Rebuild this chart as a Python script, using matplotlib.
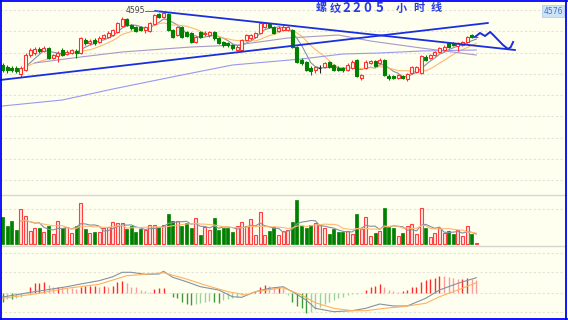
import matplotlib
matplotlib.use("Agg")
import matplotlib.pyplot as plt
from matplotlib.lines import Line2D
from matplotlib.patches import Rectangle
import numpy as np
import pandas as pd

plt.rcParams['font.family'] = ['Noto Sans CJK SC', 'DejaVu Sans']

W, H = 568, 320

# hourly candles, rebar 2205
opens = [4489, 4485, 4483, 4483, 4471, 4479, 4509, 4513, 4521, 4517,
         4523, 4503, 4507, 4519, 4511, 4513, 4517, 4513, 4539, 4533,
         4539, 4535, 4543, 4545, 4549, 4555, 4567, 4581, 4569, 4565,
         4565, 4559, 4557, 4571, 4591, 4585, 4591, 4559, 4549, 4565,
         4555, 4553, 4535, 4555, 4551, 4549, 4555, 4543, 4535, 4533,
         4529, 4519, 4519, 4539, 4543, 4545, 4553, 4565, 4571, 4565,
         4557, 4559, 4559, 4559, 4525, 4499, 4495, 4483, 4479, 4483,
         4485, 4495, 4489, 4483, 4483, 4479, 4483, 4499, 4463, 4483,
         4493, 4497, 4493, 4499, 4467, 4467, 4463, 4467, 4461, 4473,
         4475, 4473, 4505, 4503, 4509, 4515, 4519, 4533, 4533, 4527,
         4529, 4535, 4549, 4545]
closes = [4479, 4479, 4479, 4477, 4483, 4509, 4519, 4521, 4517, 4523,
          4503, 4509, 4513, 4509, 4515, 4519, 4513, 4543, 4533, 4537,
          4533, 4543, 4549, 4553, 4559, 4573, 4581, 4569, 4563, 4557,
          4559, 4565, 4573, 4589, 4585, 4593, 4559, 4545, 4565, 4545,
          4547, 4535, 4545, 4545, 4553, 4555, 4543, 4533, 4529, 4529,
          4523, 4525, 4539, 4549, 4549, 4553, 4573, 4573, 4565, 4553,
          4563, 4565, 4565, 4525, 4495, 4493, 4479, 4477, 4485, 4483,
          4493, 4485, 4479, 4479, 4479, 4489, 4495, 4467, 4469, 4495,
          4497, 4487, 4499, 4469, 4463, 4463, 4469, 4463, 4471, 4485,
          4485, 4507, 4499, 4509, 4515, 4523, 4525, 4525, 4529, 4533,
          4535, 4545, 4545, 4546]
highs = [4493, 4489, 4487, 4487, 4487, 4513, 4523, 4525, 4525, 4527,
         4525, 4511, 4517, 4523, 4519, 4521, 4521, 4545, 4543, 4541,
         4543, 4547, 4551, 4557, 4561, 4575, 4585, 4583, 4571, 4567,
         4567, 4567, 4575, 4591, 4593, 4595, 4593, 4561, 4567, 4567,
         4557, 4555, 4547, 4557, 4557, 4557, 4557, 4545, 4537, 4535,
         4531, 4529, 4541, 4551, 4551, 4555, 4575, 4575, 4573, 4567,
         4567, 4569, 4567, 4561, 4527, 4503, 4497, 4487, 4487, 4489,
         4495, 4497, 4491, 4487, 4485, 4493, 4499, 4501, 4471, 4499,
         4499, 4499, 4503, 4501, 4471, 4469, 4471, 4469, 4473, 4487,
         4487, 4509, 4509, 4511, 4517, 4525, 4529, 4535, 4535, 4535,
         4537, 4547, 4551, 4547]
lows = [4475, 4473, 4475, 4473, 4465, 4477, 4505, 4509, 4513, 4515,
        4501, 4501, 4495, 4507, 4509, 4511, 4503, 4511, 4529, 4529,
        4529, 4533, 4541, 4543, 4547, 4553, 4565, 4567, 4559, 4555,
        4557, 4553, 4555, 4569, 4583, 4583, 4557, 4543, 4547, 4543,
        4545, 4533, 4533, 4543, 4547, 4545, 4539, 4531, 4525, 4525,
        4519, 4517, 4517, 4537, 4539, 4543, 4551, 4563, 4563, 4551,
        4555, 4557, 4557, 4523, 4493, 4489, 4477, 4469, 4473, 4473,
        4483, 4483, 4477, 4477, 4475, 4477, 4481, 4465, 4459, 4481,
        4491, 4485, 4491, 4467, 4459, 4461, 4461, 4461, 4457, 4471,
        4473, 4471, 4497, 4501, 4507, 4513, 4517, 4523, 4527, 4517,
        4527, 4533, 4543, 4545]
# volume, 10k lots
volume = [2.7, 1.8, 2.3, 1.4, 3.5, 2.8, 1.3, 1.6, 1.6, 1.2,
          1.8, 1.0, 2.3, 1.6, 1.7, 1.1, 1.8, 4.1, 1.5, 1.1,
          1.2, 1.2, 1.6, 1.7, 2.2, 2.1, 2.1, 1.5, 1.8, 1.2,
          1.5, 1.4, 1.9, 1.9, 1.7, 1.9, 3.0, 2.3, 2.3, 1.8,
          2.1, 1.6, 2.6, 0.9, 1.7, 1.4, 2.6, 1.4, 1.6, 1.6,
          1.2, 1.8, 2.2, 1.8, 2.5, 0.9, 3.2, 0.9, 1.3, 1.7,
          0.9, 1.3, 1.4, 2.2, 4.4, 1.8, 1.6, 1.9, 2.1, 1.9,
          1.6, 1.0, 1.5, 1.2, 1.2, 1.3, 1.0, 3.0, 1.5, 2.7,
          0.8, 1.1, 1.3, 3.6, 1.7, 1.6, 0.8, 1.1, 1.8, 2.0,
          1.0, 3.6, 1.6, 0.7, 1.1, 1.6, 1.1, 1.3, 1.0, 1.4,
          0.8, 1.8, 1.0, 0.1]
macd_hist = [-9, -6.7, -6.7, -5.7, -4, 0.5, 5.3, 9.3, 10, 11,
             7.7, 6, 6, 5.3, 5, 4.3, 3.3, 6, 6.7, 6.7,
             6.7, 6, 6.7, 6, 6.7, 11, 11.7, 9.3, 6, 5.3,
             2.7, 1.7, 1, 3.7, 4.3, 5, -0.5, -4.7, -5.7, -9,
             -11.3, -12.3, -11.3, -10, -9, -8, -9, -10, -7.3, -6.7,
             -5.7, -4.7, -2.3, -1.3, -0.3, 1, 5.3, 7.7, 6.7, 6,
             6, 4.3, -2.3, -9, -13.3, -15.6, -20, -19, -16.6, -14.6,
             -11.3, -9, -7.3, -5.7, -4, -2.3, -1.7, -1.3, -0.7, 2.7,
             5.3, 6.7, 8.3, 5.3, 2.7, 1.7, 1, 1.7, 2.7, 5.3,
             6, 11, 12.7, 13.3, 15, 17, 16.7, 16, 15, 13.3,
             13.7, 14.3, 13.3, 12.7]
dif_idx = [0, 7, 14, 17, 21, 24, 26, 28, 31, 34, 35, 37, 40, 43, 47, 50, 52,
           55, 58, 61, 63, 66, 68, 72, 76, 79, 82, 85, 88, 92, 95, 99, 103]
dif = [-4.3, 1, 6, 8.7, 12, 16, 20.4, 20.4, 18.4, 18.7, 21.4, 15.4, 11, 6,
       2.7, -4, -4.6, 1, 4.4, 6, 1, -7.3, -15.6, -19, -18, -15.6, -11.3,
       -13.3, -13.3, -5.6, 2.7, 9.4, 15]
dea_idx = [0, 7, 14, 21, 27, 31, 35, 40, 44, 49, 53, 55, 61, 65, 68, 72, 76,
           79, 83, 87, 92, 95, 99, 103]
dea = [-5.6, -1.3, 4.4, 8.4, 17, 18.4, 20, 13.7, 7.7, 1, -2.3, 1, 5, -2.3,
       -10, -15.6, -18, -18, -15.6, -14, -10.6, -4, 2.7, 10]
# longer moving averages
ma_mid_idx = [7, 17, 26, 41, 51, 62, 73, 80, 91, 103]
ma_mid = [4493, 4505, 4515, 4525, 4529, 4543, 4549, 4537, 4523, 4509]
ma_long_idx = [0, 13, 24, 39, 50, 65, 74, 82, 91, 103]
ma_long = [4407, 4419, 4441, 4469, 4489, 4501, 4511, 4513, 4517, 4519]
# hand drawn lines
trend_down_idx = [33.2, 111.4]
trend_down = [4597, 4519]
trend_up_idx = [-0.5, 105.5]
trend_up = [4459, 4573]
guess_idx = [102.7, 103.8, 104.9, 106.0, 106.7, 108.8, 109.9, 110.5, 111.0]
guess = [4545, 4553, 4547, 4555, 4549, 4529, 4521, 4525, 4535]

title = '螺纹2205小时线'
title_px = [321, 335, 346, 356.5, 367.5, 379.5, 401.5, 418.5, 436.5]
last_tag = '4576'

bg = '#fffff0'
grid_c = '#e2e2d6'
red = '#ff3030'
green = '#008000'
blue = '#1a2ee0'

# candle i sits at 2.5 + 4.6*i pixels
STEP, X0 = 4.6, 2.5
XLIM = ((0 - X0) / STEP, (565 - X0) / STEP)

fig = plt.figure(figsize=(W / 100, H / 100), dpi=100, facecolor=bg)


def panel(y0, y1):
    ax = fig.add_axes([0, 1 - y1 / H, 565 / W, (y1 - y0) / H])
    ax.set_facecolor('none')
    for s in ax.spines.values():
        s.set_visible(False)
    ax.set_xticks([])
    ax.set_yticks([])
    ax.set_xlim(XLIM)
    return ax


def dashed(ax, levels):
    for g in levels:
        ax.axhline(g, color=grid_c, lw=0.8, ls=(0, (2, 2)), zorder=0)


n = len(closes)
idx = np.arange(n)
o = np.array(opens)
c = np.array(closes)
hi = np.array(highs)
lo = np.array(lows)
bw = 0.66

# ---- price panel
ax = panel(0, 194.7)
ax.set_ylim(4229.6, 4619)
dashed(ax, np.linspace(4259, 4599, 9))

for i in idx:
    if c[i] > o[i]:
        col, face = red, bg
    elif c[i] < o[i]:
        col, face = green, green
    else:
        col, face = '#202020', '#202020'
    top, bot = max(o[i], c[i]), min(o[i], c[i])
    ax.vlines(i, top, hi[i], color=col, lw=0.8, zorder=3)
    ax.vlines(i, lo[i], bot, color=col, lw=0.8, zorder=3)
    ax.add_patch(Rectangle((i - bw / 2, bot), bw, max(top - bot, 0.6),
                           facecolor=face, edgecolor=col, lw=0.8, zorder=4))

cs = pd.Series(c)
ma5 = cs.rolling(5, min_periods=1).mean()
ma10 = cs.rolling(10, min_periods=1).mean()
ax.plot(idx[4:], ma5[4:], color='#8492a0', lw=0.8, zorder=2)
ax.plot(idx[4:], ma10[4:], color='#ffb870', lw=0.8, zorder=2)
ax.plot(ma_mid_idx, ma_mid, color='#a898c8', lw=0.8, zorder=2)
ax.plot(ma_long_idx, ma_long, color='#9898f0', lw=0.8, zorder=2)

ax.plot(trend_down_idx, trend_down, color=blue, lw=1.3, zorder=5)
ax.plot(trend_up_idx, trend_up, color=blue, lw=1.3, zorder=5)
ax.plot(guess_idx, guess, color=blue, lw=1.4, zorder=5, solid_joinstyle='miter')

pk = int(np.argmax(hi))
ax.plot([pk - 4.0, pk - 1.2], [hi[pk] + 2.6] * 2, color='#707080', lw=0.7, zorder=5)
ax.text(pk - 4.0, hi[pk] + 4, str(hi[pk]), ha='right', va='center',
        fontsize=5.5, color='#404050', family='DejaVu Sans')

for ch, xp in zip(title, title_px):
    size = 9.5 if ch.isdigit() else 8
    fig.text(xp / W, 1 - 8 / H, ch, ha='center', va='center', fontsize=size,
             fontweight='bold', color='#2a3ce6',
             family=['Noto Sans CJK SC', 'DejaVu Sans'])

fig.text(553 / W, 1 - 11 / H, last_tag, ha='center', va='center', fontsize=5.5,
         color='#3a78c8', family='DejaVu Sans',
         bbox=dict(boxstyle='square,pad=0.15', fc='#cfe3f7', ec='#a8c8e8', lw=0.5))

# ---- volume panel
axv = panel(194.7, 246.3)
axv.set_ylim(-0.2, 4.96)
dashed(axv, [3.58])
for i in idx:
    if c[i] >= o[i]:
        axv.add_patch(Rectangle((i - bw / 2, 0), bw, volume[i], facecolor='#ffe6de',
                                edgecolor='#ff4040', lw=0.8, zorder=3))
    else:
        axv.add_patch(Rectangle((i - bw / 2, 0), bw, volume[i], facecolor=green,
                                edgecolor=green, lw=0.5, zorder=3))
vs = pd.Series(volume)
axv.plot(idx[4:], vs.rolling(5, min_periods=1).mean()[4:], color='#8492a0', lw=0.8, zorder=4)
axv.plot(idx[4:], vs.rolling(10, min_periods=1).mean()[4:], color='#ffb870', lw=0.8, zorder=4)

# ---- MACD panel
axm = panel(246.3, 318)
axm.set_ylim(-25.3, 46.4)
dashed(axm, [39.4, 20.4, 0, -19])
mh = np.array(macd_hist)
for i in idx:
    grow = i == 0 or abs(mh[i]) >= abs(mh[i - 1])
    if mh[i] >= 0:
        col = '#ff2a2a' if grow else '#ff9a9a'
    else:
        col = '#3c9a3c' if grow else '#9fcf9f'
    axm.vlines(i, 0, mh[i], color=col, lw=1.0, zorder=3)
axm.plot(dif_idx, dif, color='#8492a0', lw=0.8, zorder=4)
axm.plot(dea_idx, dea, color='#ffb060', lw=0.8, zorder=4)

# panel separators and frame
for yy in (194.7, 246.3):
    fig.add_artist(Line2D([0, 565 / W], [1 - yy / H] * 2, color='#d6d6ce', lw=1.0))
frame = dict(color='#0000ff', lw=1.3)
fig.add_artist(Line2D([0.8 / W] * 2, [1 - 318.5 / H, 1], **frame))
fig.add_artist(Line2D([565.8 / W] * 2, [1 - 318.5 / H, 1], **frame))
fig.add_artist(Line2D([0, 566.5 / W], [1 - 318.5 / H] * 2, **frame))
fig.add_artist(Line2D([0, 566.5 / W], [1 - 0.5 / H] * 2, **frame))

fig.savefig('out.png', dpi=100, facecolor=bg)
